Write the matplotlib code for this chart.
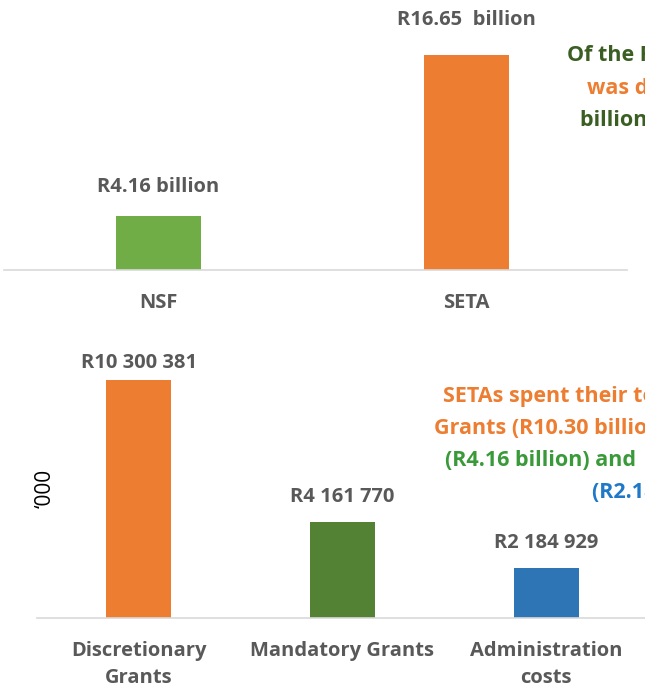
import matplotlib
matplotlib.use("Agg")
import matplotlib.pyplot as plt

plt.rcParams['font.family'] = ['Open Sans', 'DejaVu Sans']

# Levy split (R billion)
split_labels = ["NSF", "SETA"]
split_values = [4.16, 16.65]
split_texts = ["R4.16 billion", "R16.65  billion"]
split_colors = ["#70AD47", "#ED7D31"]

# SETA spending (R '000)
spend_labels = ["Discretionary\nGrants", "Mandatory Grants", "Administration\ncosts"]
spend_values = [10300381, 4161770, 2184929]
spend_colors = ["#ED7D31", "#548235", "#2E75B6"]

W, H = 645, 686
GRAY = "#595959"
FS = 14.5
fig = plt.figure(figsize=(W / 100, H / 100), dpi=100)


def box(left, right, bottom, top):
    # pixel box -> figure fraction
    return [left / W, 1 - bottom / H, (right - left) / W, (bottom - top) / H]


def clean(ax, pad):
    for s in ["top", "right", "left"]:
        ax.spines[s].set_visible(False)
    ax.spines["bottom"].set_color("#D9D9D9")
    ax.spines["bottom"].set_linewidth(1.2)
    ax.set_yticks([])
    ax.tick_params(axis="x", length=0, pad=pad, labelsize=FS, labelcolor=GRAY)
    for t in ax.get_xticklabels():
        t.set_fontweight("bold")


# top: NSF vs SETA
ax1 = fig.add_axes(box(4, 627, 270, 12))
ax1.bar(range(len(split_values)), split_values, width=0.276, color=split_colors)
ax1.set_xlim(-0.5, 1.52)
ax1.set_ylim(0, 20)
ax1.set_xticks(range(len(split_labels)))
ax1.set_xticklabels(split_labels)
clean(ax1, 16.5)
for i, (v, t, off) in enumerate(zip(split_values, split_texts, [29, 35])):
    ax1.annotate(t, (i, v), xytext=(0, off * 0.72), textcoords="offset points",
                 ha="center", va="center", fontsize=FS, fontweight="bold", color=GRAY)

# bottom: spending breakdown
ax2 = fig.add_axes(box(37, 648, 618, 341))
ax2.bar(range(len(spend_values)), spend_values, width=0.32, color=spend_colors)
ax2.set_xlim(-0.5, 2.5)
ax2.set_ylim(0, 12000000)
ax2.set_xticks(range(len(spend_labels)))
ax2.set_xticklabels(spend_labels, linespacing=1.5)
clean(ax2, 16.5)
for i, (v, off) in enumerate(zip(spend_values, [17, 25, 25])):
    lbl = "R" + f"{v:,}".replace(",", " ")
    ax2.annotate(lbl, (i, v), xytext=(0, off * 0.72), textcoords="offset points",
                 ha="center", va="center", fontsize=FS, fontweight="bold", color=GRAY)

fig.text(45 / W, 1 - 488 / H, "\u2018000", rotation=90, ha="center", va="center",
         fontsize=15, color="black")


def note(x, y, s, c):
    fig.text(x / W, 1 - y / H, s, ha="left", va="center", fontsize=15.5,
             fontweight="bold", color=c)


note(567, 56, "Of the R20.81 billion,", "#3B5E23")
note(587, 88, "was disbursed", "#ED7D31")
note(580, 120, "billion to SETAs", "#3B5E23")

note(443, 396, "SETAs spent their total on", "#ED7D31")
note(434, 428, "Grants (R10.30 billion),", "#ED7D31")
note(445, 460, "(R4.16 billion) and", "#3A9A3A")
note(592, 492, "(R2.18 billion)", "#1F78C8")

fig.savefig("out.png", dpi=100)
